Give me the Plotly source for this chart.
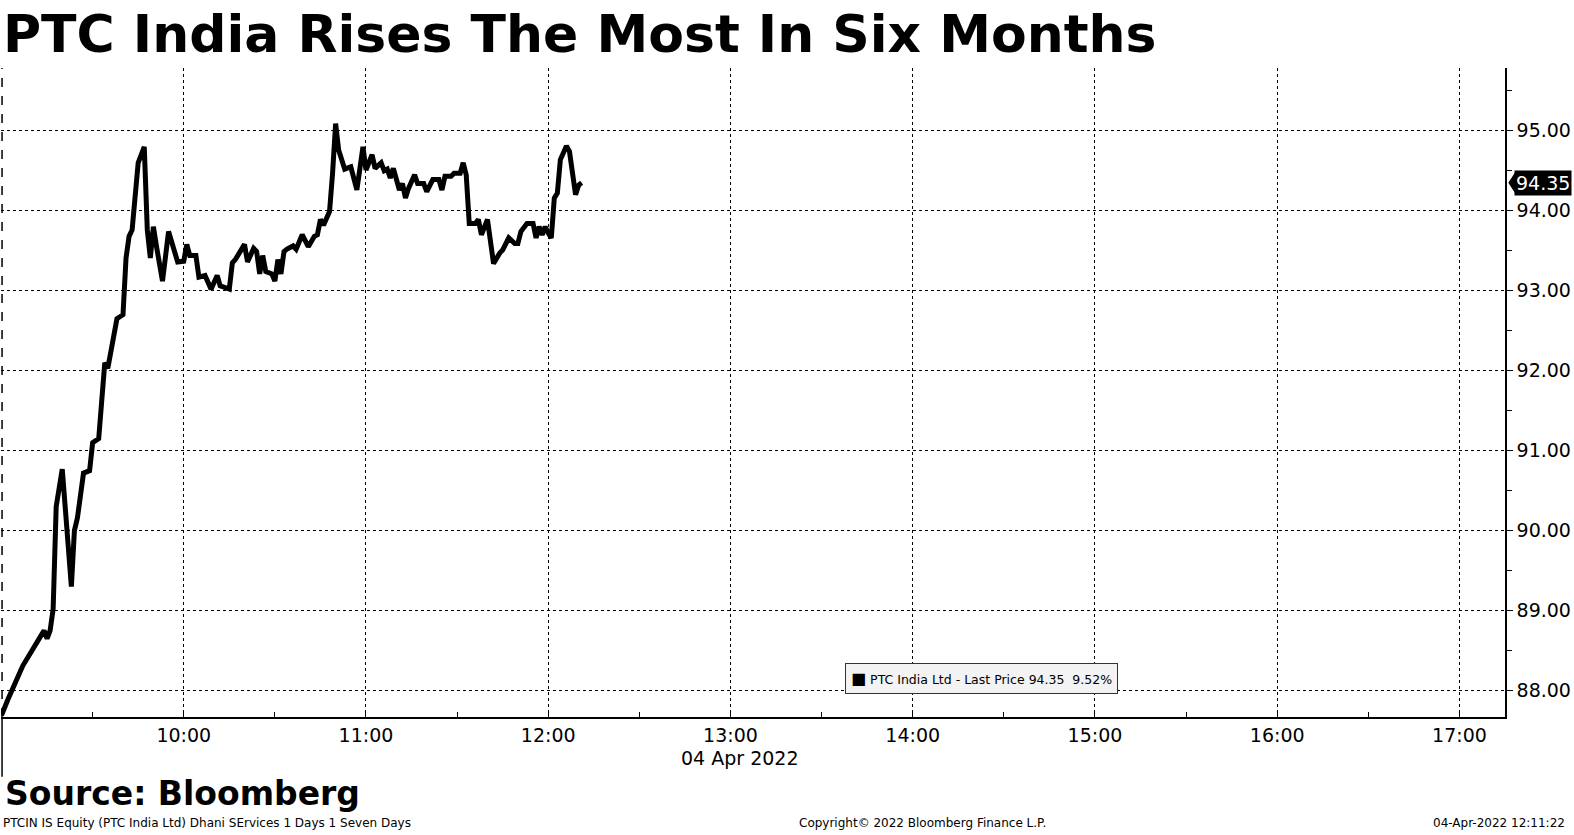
import pandas as pd
import plotly.graph_objects as go

# minutes after 09:00 on 04 Apr 2022 and last price
minutes = [0, 2, 7, 14, 15, 16, 17, 18, 20, 23, 24, 25, 27, 29, 30, 32, 34, 35, 38, 40,
           41, 42, 43, 45, 47, 48, 49, 50, 51, 53, 55, 58, 60, 61, 62, 64, 65, 67, 69, 71,
           72, 75, 76, 77, 80, 81, 83, 84, 85, 86, 87, 89, 90, 91, 92, 93, 94, 96, 97, 99,
           101, 103, 104, 105, 106, 108, 109, 110, 111, 113, 115, 117, 119, 120, 122, 123, 125, 126, 127, 128,
           129, 131, 132, 133, 134, 136, 137, 139, 140, 142, 144, 145, 146, 148, 149, 151, 152, 153, 154, 156,
           157, 158, 160, 162, 164, 165, 167, 169, 170, 171, 173, 175, 176, 177, 178, 179, 180, 181, 182, 183,
           184, 186, 187, 189, 190, 191]
prices = [87.69, 87.88, 88.31, 88.75, 88.65, 88.75, 89.02, 90.30, 90.77, 89.30, 90.00, 90.16, 90.72, 90.75, 91.10, 91.15, 92.10, 92.03, 92.65, 92.70,
          93.41, 93.68, 93.76, 94.60, 94.80, 93.76, 93.41, 93.80, 93.56, 93.12, 93.74, 93.36, 93.37, 93.58, 93.44, 93.44, 93.17, 93.19, 93.02, 93.19,
          93.06, 93.02, 93.35, 93.39, 93.58, 93.36, 93.53, 93.49, 93.21, 93.44, 93.24, 93.21, 93.12, 93.39, 93.21, 93.49, 93.52, 93.56, 93.52, 93.70,
          93.55, 93.68, 93.70, 93.89, 93.82, 93.99, 94.47, 95.09, 94.76, 94.52, 94.55, 94.26, 94.80, 94.51, 94.70, 94.53, 94.60, 94.50, 94.52, 94.41,
          94.53, 94.26, 94.34, 94.16, 94.28, 94.45, 94.34, 94.34, 94.24, 94.39, 94.39, 94.26, 94.43, 94.43, 94.47, 94.47, 94.60, 94.45, 93.84, 93.84,
          93.89, 93.70, 93.89, 93.34, 93.47, 93.51, 93.66, 93.59, 93.59, 93.74, 93.84, 93.84, 93.66, 93.80, 93.70, 93.80, 93.72, 93.66, 94.16, 94.22,
          94.64, 94.81, 94.74, 94.20, 94.32, 94.35]

prev_close = 86.15
hour_ticks = ["10:00", "11:00", "12:00", "13:00", "14:00", "15:00", "16:00", "17:00"]
price_ticks = [88, 89, 90, 91, 92, 93, 94, 95]

FONT = "DejaVu Sans"

day = pd.Timestamp("2022-04-04")
times = day + pd.Timedelta(hours=9) + pd.to_timedelta(minutes, unit="m")
last = prices[-1]
chg = (last / prev_close - 1) * 100

fig = go.Figure()
fig.add_trace(go.Scatter(x=times, y=prices, mode="lines",
                         line=dict(color="black", width=5), showlegend=False))

fig.update_xaxes(
    range=[day + pd.Timedelta("08:59:50"), day + pd.Timedelta("17:15:00")],
    tickvals=[day + pd.Timedelta(h + ":00") for h in hour_ticks],
    ticktext=hour_ticks,
    showgrid=True, gridcolor="black", griddash="dot", gridwidth=1,
    showline=True, linecolor="black", linewidth=1.5,
    ticks="inside", ticklen=0,
    minor=dict(dtick=30 * 60 * 1000, ticks="inside", ticklen=5, tickcolor="black", showgrid=False),
    tickfont=dict(family=FONT, size=19, color="black"),
    zeroline=False,
)
fig.update_yaxes(
    side="right", range=[87.67, 95.785],
    tickvals=price_ticks, ticktext=[f"{v:.2f}" for v in price_ticks],
    showgrid=True, gridcolor="black", griddash="dot", gridwidth=1,
    showline=True, linecolor="black", linewidth=1.5,
    ticks="outside", ticklen=6, tickcolor="black",
    minor=dict(dtick=0.5, ticks="outside", ticklen=5, tickcolor="black", showgrid=False),
    tickfont=dict(family=FONT, size=19, color="black"),
    zeroline=False,
)

fig.update_layout(
    width=1574, height=835,
    margin=dict(l=1, r=69, t=68, b=118),
    paper_bgcolor="white", plot_bgcolor="white",
    font=dict(family=FONT, color="black"),
)

# left day-separator
fig.add_shape(type="line", xref="paper", yref="paper", x0=0.0007, x1=0.0007, y0=0, y1=1,
              line=dict(color="black", width=1.5, dash="dash"))
fig.add_shape(type="line", xref="paper", yref="paper", x0=0.0007, x1=0.0007, y0=-0.092, y1=0,
              line=dict(color="black", width=1.5))

# last price tag
fig.add_annotation(xref="paper", yref="y", x=1.0062, y=last, xanchor="left", yanchor="middle",
                   text=f"{last:.2f}", showarrow=False, bgcolor="black", borderpad=1,
                   font=dict(family=FONT, size=19, color="white"))
fig.add_shape(type="path", xref="paper", yref="y", fillcolor="black", line=dict(width=0),
              path=f"M 1.0022 {last} L 1.0072 {last + 0.145} L 1.0072 {last - 0.145} Z")

# legend box
fig.add_annotation(xref="paper", yref="paper", x=0.652, y=0.060, xanchor="center", yanchor="middle",
                   text=f"<span style='font-size:16px'>■</span> PTC India Ltd - Last Price {last:.2f}  {chg:.2f}%",
                   showarrow=False, bgcolor="#f3f3f3", bordercolor="#333333", borderwidth=1, borderpad=5,
                   font=dict(family=FONT, size=12.5, color="black"))

# date under axis
fig.add_annotation(xref="paper", yref="paper", x=0.491, y=-0.063, xanchor="center", yanchor="middle",
                   text="04 Apr 2022", showarrow=False, font=dict(family=FONT, size=19))

# title and footer
fig.add_annotation(xref="paper", yref="paper", x=0.0, y=1.052, xanchor="left", yanchor="middle",
                   text="<b>PTC India Rises The Most In Six Months</b>", showarrow=False,
                   font=dict(family=FONT, size=52, color="black"))
fig.add_annotation(xref="paper", yref="paper", x=0.001, y=-0.1175, xanchor="left", yanchor="middle",
                   text="<b>Source: Bloomberg</b>", showarrow=False,
                   font=dict(family=FONT, size=33, color="black"))
fig.add_annotation(xref="paper", yref="paper", x=0, y=-0.163, xanchor="left", yanchor="middle",
                   text="PTCIN IS Equity (PTC India Ltd) Dhani SErvices 1 Days 1 Seven Days", showarrow=False,
                   font=dict(family=FONT, size=12))
fig.add_annotation(xref="paper", yref="paper", x=0.613, y=-0.163, xanchor="center", yanchor="middle",
                   text="Copyright© 2022 Bloomberg Finance L.P.", showarrow=False,
                   font=dict(family=FONT, size=12))
fig.add_annotation(xref="paper", yref="paper", x=1.0415, y=-0.163, xanchor="right", yanchor="middle",
                   text="04-Apr-2022 12:11:22", showarrow=False,
                   font=dict(family=FONT, size=12))

fig.write_html("out.html", config={"displayModeBar": False},
               post_script="document.body.style.margin='0';document.body.style.overflow='hidden';")
